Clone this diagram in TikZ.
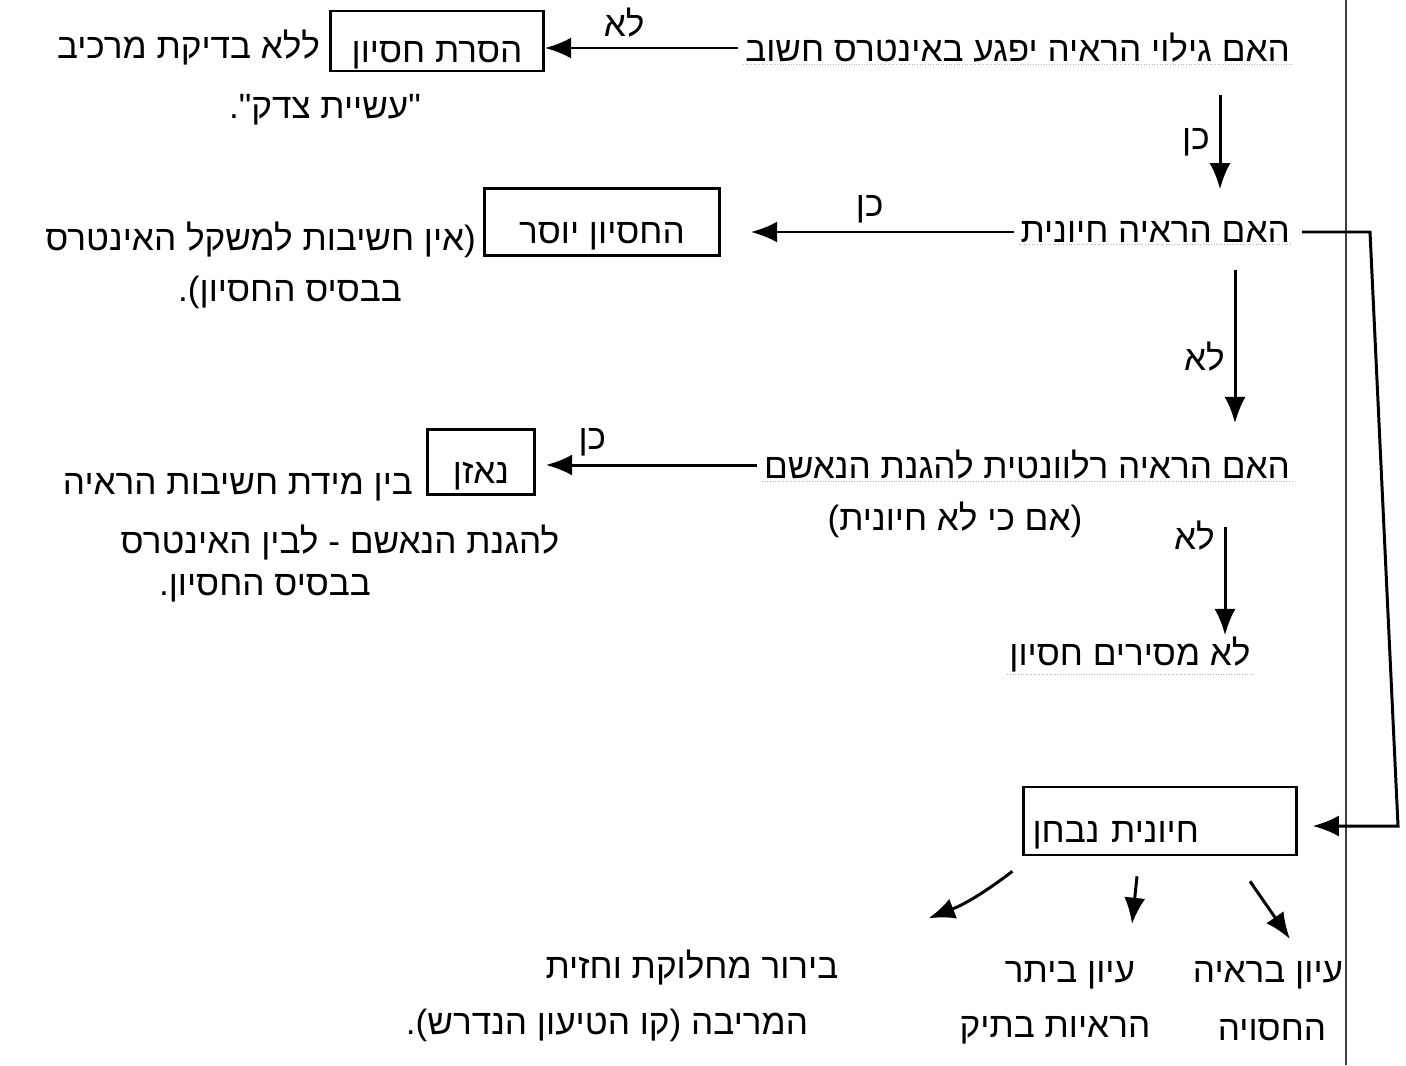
\documentclass[tikz,border=0pt]{standalone}
\usepackage{fontspec}
\setmainfont{Liberation Sans}
\newfontfamily\hebfont[Script=Hebrew]{Liberation Sans}
\TeXXeTstate=1
\newcommand{\hebline}[1]{{\hebfont\beginR #1\endR}}
\usetikzlibrary{arrows.meta,positioning,calc}

\begin{document}
\begin{tikzpicture}[x=0.02cm, y=-0.02cm,
    every node/.style={font=\fontsize{20}{24}\selectfont, inner sep=1pt},
    box/.style={draw, line width=1.5pt, text height=28pt, text depth=4pt, inner xsep=5pt, inner ysep=1pt},
    arr/.style={-{Latex[length=15pt,width=12pt]}, line width=1.7pt},
    ruled/.style={densely dotted, gray!60, line width=0.5pt}]
    \useasboundingbox (0,0) rectangle (1406,1065);
    % margin line of the sheet
    \draw[black!75, line width=0.6pt] (1346,0) -- (1346,1065);

    % questions
    \node[anchor=east] (q1) at (1292,48) {\hebline{האם גילוי הראיה יפגע באינטרס חשוב}};
    \node[anchor=east] (q2) at (1292,232) {\hebline{האם הראיה חיונית}};
    \node[anchor=east] (q3) at (1292,465) {\hebline{האם הראיה רלוונטית להגנת הנאשם}};
    \node (q3note) at (955,520) {\hebline{(אם כי לא חיונית)}};
    \node (q4) at (1130,655) {\hebline{לא מסירים חסיון}};
    \draw[ruled] (q1.south west) -- (q1.south east);
    \draw[ruled] (q2.south west) -- (q2.south east);
    \draw[ruled] (q3.south west) -- (q3.south east);
    \draw[ruled] (q4.south west) -- (q4.south east);

    % outcomes on the left
    \node[box, minimum width=4.26cm, minimum height=1.16cm] (remove) at (437,41) {\hebline{הסרת חסיון}};
    \node[anchor=east] (remove1) at (322,48) {\hebline{ללא בדיקת מרכיב}};
    \node (remove2) at (325,110) {\hebline{"עשיית צדק".}};

    \node[box, minimum width=4.7cm, minimum height=1.34cm] (lifted) at (602,222) {\hebline{החסיון יוסר}};
    \node[anchor=east] (lifted1) at (478,240) {\hebline{(אין חשיבות למשקל האינטרס}};
    \node (lifted2) at (290,292) {\hebline{בבסיס החסיון).}};

    \node[box, minimum width=2.14cm, minimum height=1.3cm] (balance) at (481,462) {\hebline{נאזן}};
    \node[anchor=east] (balance1) at (415,487) {\hebline{בין מידת חשיבות הראיה}};
    \node (balance2) at (340,543) {\hebline{להגנת הנאשם - לבין האינטרס}};
    \node (balance3) at (265,588) {\hebline{בבסיס החסיון.}};

    % essential evidence
    \node[box, minimum width=5.4cm, minimum height=1.36cm, text width=5.1cm, align=left] (examine) at (1160,821) {\hebline{חיונית נבחן}};
    \node (look1) at (1268,975) {\hebline{עיון בראיה}};
    \node (look2) at (1272,1030) {\hebline{החסויה}};
    \node (rest1) at (1070,975) {\hebline{עיון ביתר}};
    \node (rest2) at (1055,1030) {\hebline{הראיות בתיק}};
    \node (dispute1) at (692,968) {\hebline{בירור מחלוקת וחזית}};
    \node (dispute2) at (607,1025) {\hebline{המריבה (קו הטיעון הנדרש).}};

    % arrows
    \draw[arr, shorten <=0.1cm] (q1.west) -- (q1.west -| remove.east) node[pos=0.6, above=4pt] {\hebline{לא}};
    \draw[arr, shorten <=0.6cm, shorten >=0.6cm] ([xshift=-1.44cm]q1.south east) -- ([xshift=-1.44cm]q1.south east |- q2.north) node[midway, left=4pt] {\hebline{כן}};
    \draw[arr, shorten <=0.1cm, shorten >=0.6cm] (q2.west) -- (q2.west -| lifted.east) node[midway, above=3pt] {\hebline{כן}};
    \draw[arr, shorten <=0.5cm, shorten >=0.5cm] ([xshift=-1.14cm]q2.south east) -- ([xshift=-1.14cm]q2.south east |- q3.north) node[pos=0.55, left=4pt] {\hebline{לא}};
    \draw[arr, shorten <=0.1cm, shorten >=0.2cm] (q3.west) -- (q3.west -| balance.east) node[pos=0.75, above=3pt] {\hebline{כן}};
    \draw[arr, shorten <=0.9cm] ([xshift=-1.34cm]q3.south east) -- ([xshift=-1.34cm]q3.south east |- q4.north) node[pos=0.35, left=4pt] {\hebline{לא}};

    \coordinate (rtop) at (1370,232);
    \coordinate (rbot) at (1398,826);
    \draw[arr, shorten <=0.2cm, shorten >=0.3cm] (q2.east) -- (rtop) -- (rbot) -- (rbot -| examine.east);

    \draw[arr] ($(examine.south west)+(-10,15)$) to[bend left=8] ($(dispute1.north east)+(88,-30)$);
    \draw[arr] ($(examine.south)+(-23,20)$) -- ($(rest1.north)+(62,-35)$);
    \draw[arr] ($(examine.south)+(90,25)$) -- ($(look1.north)+(22,-20)$);
\end{tikzpicture}
\end{document}
